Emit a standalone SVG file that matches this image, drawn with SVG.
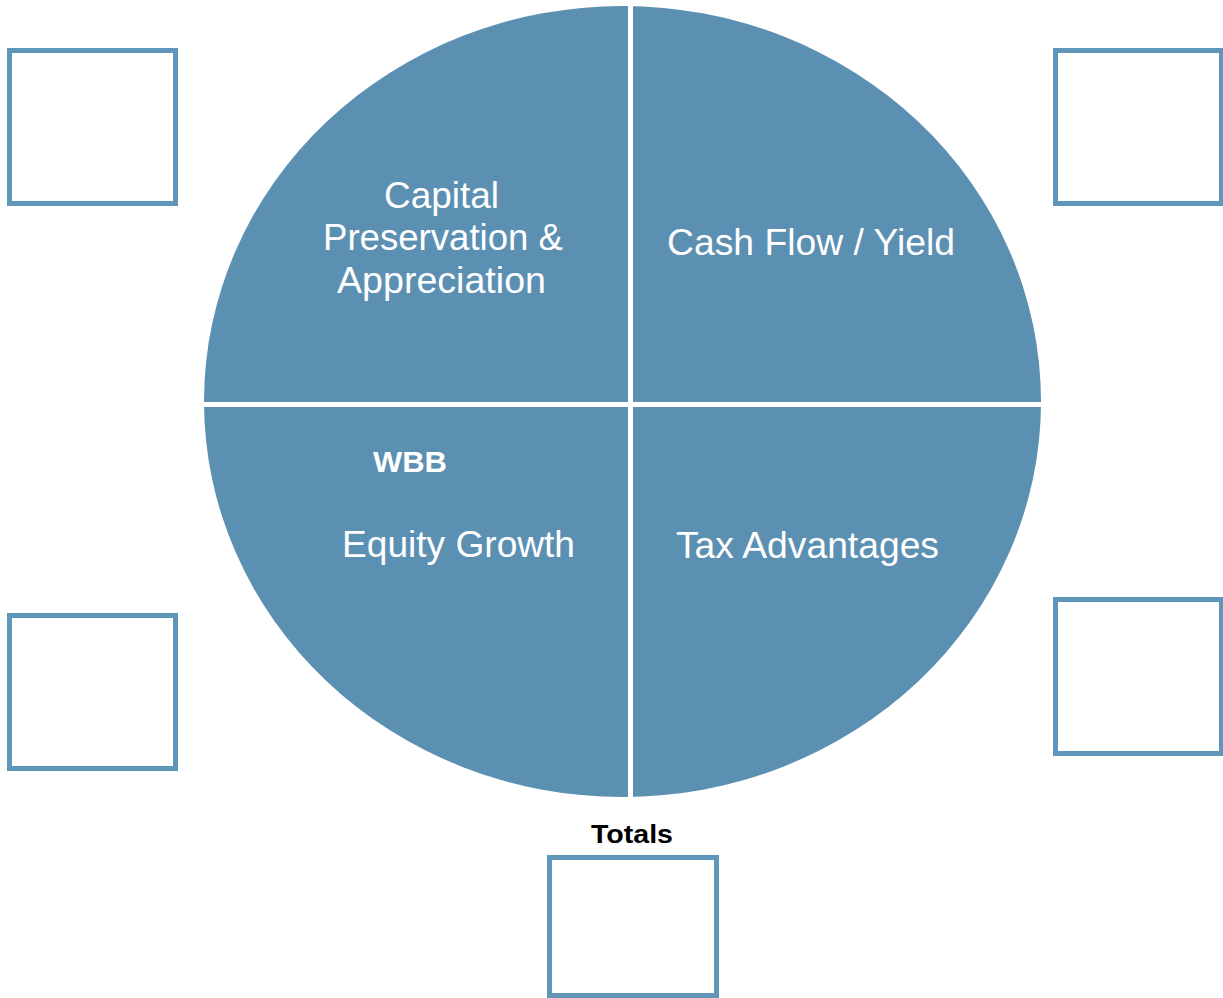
<svg xmlns="http://www.w3.org/2000/svg" width="1223" height="998" viewBox="0 0 1223 998">
  <style>
    .box { fill: #ffffff; stroke: #6096b9; stroke-width: 5; }
    .lbl { font-family: "Liberation Sans", Arial, Helvetica, sans-serif; font-size: 36px; fill: #ffffff; text-anchor: middle; }
    .bold { font-family: "Liberation Sans", Arial, Helvetica, sans-serif; font-weight: bold; text-anchor: middle; }
    .div { stroke: #ffffff; stroke-width: 5; }
  </style>
  <rect width="1223" height="998" fill="#ffffff"/>
  <g id="pie">
    <ellipse cx="622.5" cy="401.5" rx="418.5" ry="395.5" fill="#5b90b3"/>
    <line class="div" x1="630.5" y1="0" x2="630.5" y2="800"/>
    <line class="div" x1="200" y1="404.5" x2="1045" y2="404.5"/>
  </g>
  <g id="q-capital">
    <text class="lbl" x="441.5" y="208" textLength="115" lengthAdjust="spacingAndGlyphs">Capital</text>
    <text class="lbl" x="443" y="250" textLength="240" lengthAdjust="spacingAndGlyphs">Preservation &amp;</text>
    <text class="lbl" x="441.5" y="293" textLength="209" lengthAdjust="spacingAndGlyphs">Appreciation</text>
  </g>
  <g id="q-cashflow">
    <text class="lbl" x="811" y="255" textLength="288" lengthAdjust="spacingAndGlyphs">Cash Flow / Yield</text>
  </g>
  <g id="q-equity">
    <text class="bold" x="410" y="472" font-size="29" fill="#ffffff" textLength="74" lengthAdjust="spacingAndGlyphs">WBB</text>
    <text class="lbl" x="458.5" y="557" textLength="233" lengthAdjust="spacingAndGlyphs">Equity Growth</text>
  </g>
  <g id="q-tax">
    <text class="lbl" x="807.5" y="558" textLength="263" lengthAdjust="spacingAndGlyphs">Tax Advantages</text>
  </g>
  <g id="box-top-left"><rect class="box" x="9.5" y="50.5" width="166" height="153"/></g>
  <g id="box-top-right"><rect class="box" x="1055.5" y="50.5" width="166" height="153"/></g>
  <g id="box-bottom-left"><rect class="box" x="9.5" y="615.5" width="166" height="153"/></g>
  <g id="box-bottom-right"><rect class="box" x="1055.5" y="599.5" width="166" height="154"/></g>
  <g id="totals">
    <text class="bold" x="632" y="843" font-size="26" fill="#000000" textLength="82" lengthAdjust="spacingAndGlyphs">Totals</text>
    <rect class="box" x="549.5" y="857.5" width="167" height="138"/>
  </g>
  <g id="connectors"></g>
</svg>
